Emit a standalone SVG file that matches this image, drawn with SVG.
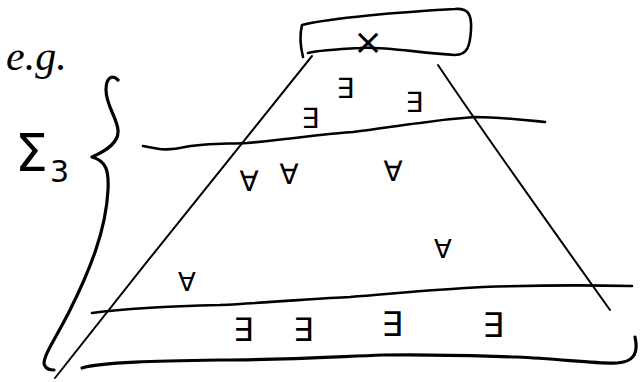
<svg xmlns="http://www.w3.org/2000/svg" width="642" height="382" viewBox="0 0 642 382">
<style>
.s{fill:none;stroke:#000;stroke-linecap:round;stroke-linejoin:round}
.t{stroke-width:2}
.m{stroke-width:2.6}
.b{stroke-width:3.2}
.q{font-family:"DejaVu Sans",sans-serif;fill:#000;text-anchor:middle}
.h{font-family:"Liberation Serif",serif;font-style:italic;fill:#000}
.g{font-family:"DejaVu Sans",sans-serif;fill:#000}
</style>
<rect width="642" height="382" fill="#fff"/>
<g id="box">
<path class="s m" d="M303,57 C300,45 300,33 302,25 C330,18 400,12 455,9 C468,8 472,14 471,30 C470,45 468,55 455,55 C420,53 380,46 360,48 C340,49 320,50 308,53"/>
<text class="q" x="368" y="54" font-size="36">×</text>
</g>
<g id="pyramid">
<path class="s t" d="M312,56 C260,120 140,270 55,378"/>
<path class="s t" d="M438,65 C480,128 560,240 610,310"/>
<path class="s m" d="M143,146 C155,148 165,152 185,147 C205,143 225,144 247,143 C300,138 330,133 353,132 C380,129 400,125 420,123 C440,120 460,118 475,117 C500,117 525,120 545,122"/>
<path class="s m" d="M92,313 C130,308 180,306 220,305 C280,302 320,298 350,297 C400,293 440,289 483,287 C540,285 590,285 632,286"/>
<path class="s b" d="M82,368 C100,362 160,361 220,360 C280,360 330,357 383,355 C440,354 480,356 517,357 C560,359 600,364 617,363 C632,362 639,355 635,337"/>
</g>
<g id="brace">
<path class="s b" d="M118,80 C113,75 106,76 106,90 C106,105 117,118 118,130 C119,142 108,150 92,157 C106,161 109,170 108,190 C106,230 90,270 70,310 C55,340 40,360 45,366 C47,370 51,370 54,370"/>
</g>
<g id="labels">
<text class="h" x="6" y="70" font-size="42">e.g.</text>
<text class="g" x="15" y="171" font-size="52">Σ</text>
<text class="g" x="50" y="182" font-size="30">3</text>
</g>
<g id="quantifiers">
<text class="q" x="310" y="128" font-size="28">∃</text>
<text class="q" x="345" y="98" font-size="28">∃</text>
<text class="q" x="414" y="112" font-size="28">∃</text>
<text class="q" x="249" y="191" font-size="28">∀</text>
<text class="q" x="289" y="184" font-size="28">∀</text>
<text class="q" x="393" y="181" font-size="28">∀</text>
<text class="q" x="443" y="258" font-size="26">∀</text>
<text class="q" x="187" y="291" font-size="26">∀</text>
<text class="q" x="243" y="341" font-size="32">∃</text>
<text class="q" x="303" y="341" font-size="32">∃</text>
<text class="q" x="392" y="336" font-size="34">∃</text>
<text class="q" x="493" y="337" font-size="34">∃</text>
</g>
</svg>
